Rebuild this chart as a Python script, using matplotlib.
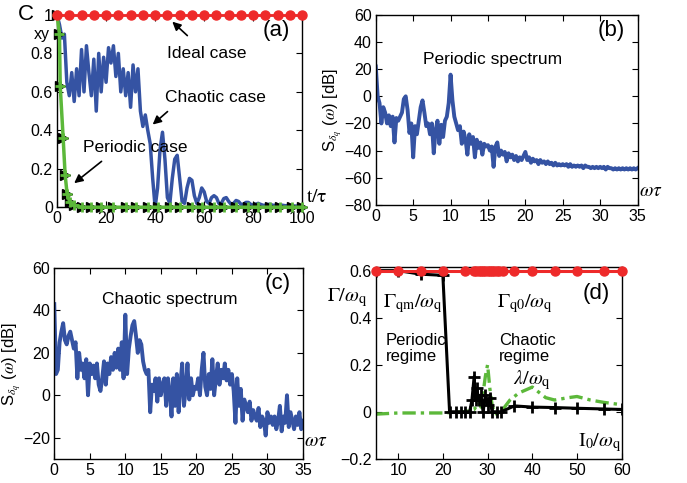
import numpy as np
import matplotlib
matplotlib.use("Agg")
import matplotlib.pyplot as plt

plt.rcParams['font.family'] = ['Liberation Sans', 'DejaVu Sans']
plt.rcParams['mathtext.fontset'] = 'stix'
plt.rcParams['font.size'] = 11.5

BLUE = '#3553a3'
RED = '#ee2a2a'
GREEN = '#5cb83a'

# ---------------- (a) correlation C_xy vs t/tau ----------------
t_ideal = np.arange(0, 101, 5)
c_ideal = [1.0] * len(t_ideal)

t_periodic = [0, 1, 1.3, 2.5, 3.3, 4.1, 5.3, 7, 10, 14, 18, 23, 28, 32, 37, 41, 46, 50,
              55, 59, 64, 68, 73, 78, 82, 87, 91, 96, 100]
c_periodic = [1.0, 0.9, 0.63, 0.36, 0.17, 0.07, 0.025, 0.01, 0.0, 0.0, 0.0, 0.0, 0.0, 0.0,
              0.0, 0.0, 0.0, 0.0, 0.0, 0.0, 0.0, 0.0, 0.0, 0.0, 0.0, 0.0, 0.0, 0.0, 0.0]

t_chaotic = np.arange(0, 101, 1)
c_chaotic = [1.0, 0.95, 0.88, 0.90, 0.65, 0.58, 0.70, 0.55, 0.72, 0.58,
             0.82, 0.60, 0.84, 0.70, 0.58, 0.77, 0.50, 0.80, 0.60, 0.78,
             0.65, 0.83, 0.75, 0.84, 0.68, 0.80, 0.60, 0.72, 0.58, 0.70,
             0.52, 0.74, 0.60, 0.72, 0.50, 0.42, 0.48, 0.40, 0.33, 0.15,
             0.0, 0.10, 0.30, 0.39, 0.25, 0.05, 0.02, 0.15, 0.25, 0.27,
             0.15, 0.03, 0.02, 0.10, 0.15, 0.14, 0.06, 0.02, 0.05, 0.10,
             0.08, 0.03, 0.02, 0.05, 0.06, 0.05, 0.02, 0.02, 0.045, 0.05,
             0.03, 0.015, 0.02, 0.035, 0.03, 0.015, 0.015, 0.025, 0.025, 0.015,
             0.01, 0.015, 0.02, 0.015, 0.01, 0.01, 0.015, 0.015, 0.01, 0.01,
             0.01, 0.012, 0.01, 0.008, 0.008, 0.01, 0.008, 0.006, 0.006, 0.005,
             0.005]

# ---------------- (b) periodic spectrum [dB] ----------------
w_spec = np.arange(0, 35.001, 0.25)
s_periodic = [22,
              0, -5, -20, -8,      -12, -20, -14, -22,   -15, -34, -16, -18,
              -15, -12, -2, 0,     -10, -27, -20, -45,   -22, -28, -18, -8,
              -3, -12, -22, -20,   -28, -20, -42, -25,   -18, -35, -21, -30,
              -18, -15, -5, 16,    -3, -15, -20, -25,    -22, -35, -26, -32,
              -43, -28, -35, -30,  -45, -32, -38, -34,   -43, -35, -37, -36,
              -40, -37, -52, -37,  -34, -44, -40, -43,   -41, -48, -42, -45,
              -43, -47, -44, -48,  -45, -47, -44, -41,   -47, -45, -49, -46,
              -48, -47, -50, -47,  -49, -48, -50, -48,   -50, -49, -51, -49,
              -51, -50, -51, -50,  -51, -50, -52, -50,   -52, -51, -52, -51,
              -52, -51, -53, -51,  -52, -52, -53, -52,   -53, -52, -53, -52,
              -53, -52, -54, -52,  -53, -53, -54, -53,   -54, -53, -54, -53,
              -54, -53, -54, -53,  -54, -53, -54, -53]

# ---------------- (c) chaotic spectrum [dB] ----------------
s_chaotic = [43,
             10, 12, 25, 30,    34, 26, 24, 28,    30, 26, 22, 25,
             8, 20, 12, 15,     8, 17, 0, 15,      10, 14, 8, 15,
             5, 2, 8, 16,       5, 15, 10, 18,     12, 20, 13, 22,
             12, 25, 8, 38,     10, 22, 28, 33,    35, 28, 20, 26,
             24, 16, 12, 10,    12, -8, 5, 2,      8, -3, 8, 0,
             5, 8, -5, 8,       2, -10, 8, -5,     10, -8, 5, 15,
             -5, 3, 15, -2,     8, 0, 4, 3,        8, 0, 12, 20,
             4, 0, 10, 3,       17, 0, 8, 15,      5, 12, 8, 15,
             7, 12, 5, 10,      2, -13, 8, -5,     3, -12, -2, -5,
             -8, -3, -12, -7,   -10, -12, -6, -15, -10, -12, -19, -8,
             -13, -10, -14, -10, -16, -12, -5, -17, -10, -13, 0, -15,
             -8, -12, -16, -10, -14, -8, -16, -12]

# ---------------- (d) rates vs I0/omega_q ----------------
i_q0 = [5, 10, 15, 20, 25, 27, 27.5, 28, 28.5, 29, 29.5, 30, 30.5, 31, 31.5, 32, 32.5,
        33.5, 36, 40, 45, 50, 56, 60]
g_q0 = [0.6] * len(i_q0)

i_qm = [5, 10, 15, 20, 21.5, 23, 24, 25, 26, 26.5, 27, 27.3, 27.6, 28, 28.5, 29,
        29.5, 30, 30.5, 31, 32, 33, 36, 40, 45, 50, 56, 60]
g_qm = [0.6, 0.6, 0.585, 0.58, 0.0, 0.0, 0.0, 0.0, 0.0, 0.05, 0.15, 0.05, 0.1, 0.05,
        0.07, 0.0, 0.07, 0.03, 0.06, 0.0, 0.0, 0.0, 0.025, 0.02, 0.018, 0.015, 0.012, 0.01]

i_lam = [5, 10, 15, 20, 25, 27, 28, 28.5, 29, 29.5, 30, 30.5, 31, 31.5, 32, 33, 35, 37,
         40, 43, 45, 48, 50, 53, 56, 60]
g_lam = [-0.01, -0.005, -0.005, -0.005, 0.0, 0.01, 0.04, 0.02, 0.08, 0.15, 0.2, 0.1,
         0.03, 0.0, -0.01, 0.0, 0.05, 0.08, 0.105, 0.06, 0.05, 0.06, 0.065, 0.05, 0.04, 0.03]


def style(ax):
    ax.tick_params(direction='in', top=True, right=True, length=4, width=0.8,
                   labelsize=11.5, pad=3)
    for s in ax.spines.values():
        s.set_linewidth(1.0)


fig = plt.figure(figsize=(6.87, 4.83), dpi=100)

# (a)
ax = fig.add_axes([0.083, 0.571, 0.357, 0.398])
ax.plot(t_chaotic, c_chaotic, color=BLUE, lw=2.5, zorder=2)
ax.plot(t_periodic, c_periodic, ls='none', marker='>', color='k', ms=7.5, zorder=3, clip_on=False)
ax.plot(t_periodic, c_periodic, color=GREEN, lw=2.5, marker='+', ms=7, mew=2, zorder=4, clip_on=False)
ax.plot(t_ideal, c_ideal, color=RED, lw=2, marker='o', ms=6.5, zorder=5, clip_on=False)
ax.set_xlim(0, 100)
ax.set_ylim(0, 1)
ax.set_xticks([0, 20, 40, 60, 80, 100])
ax.set_yticks([0, 0.2, 0.4, 0.6, 0.8, 1])
ax.set_yticklabels(['0', '0.2', '0.4', '0.6', '0.8', '1'])
style(ax)
ax.text(-0.158, 1.0, 'C', fontsize=16, transform=ax.transAxes, va='center', ha='left')
ax.text(-0.095, 0.9, 'xy', fontsize=11.5, transform=ax.transAxes, va='center', ha='left')
ax.text(0.95, 0.92, '(a)', fontsize=16, transform=ax.transAxes, ha='right', va='center')
ax.annotate('Ideal case', xy=(47, 0.965), xytext=(61, 0.8), ha='center', va='center',
            fontsize=12.5,
            arrowprops=dict(arrowstyle='-|>', color='k', lw=1.2, shrinkA=8, shrinkB=0))
ax.annotate('Chaotic case', xy=(39, 0.43), xytext=(64.5, 0.57), ha='center', va='center',
            fontsize=12.5,
            arrowprops=dict(arrowstyle='-|>', color='k', lw=1.2, shrinkA=4, shrinkB=0,
                            relpos=(0.1, 0.0)))
ax.annotate('Periodic case', xy=(7, 0.125), xytext=(32, 0.31), ha='center', va='center',
            fontsize=12.5,
            arrowprops=dict(arrowstyle='-|>', color='k', lw=1.2, shrinkA=4, shrinkB=0,
                            relpos=(0.25, 0.0)))
ax.text(1.015, 0.05, r'$\mathrm{t/\tau}$', fontsize=14, transform=ax.transAxes, ha='left',
        va='center')

# (b)
ax = fig.add_axes([0.547, 0.576, 0.381, 0.393])
ax.plot(w_spec, s_periodic, color=BLUE, lw=2.8)
ax.set_xlim(0, 35)
ax.set_ylim(-80, 60)
ax.set_xticks(np.arange(0, 36, 5))
ax.set_yticks(np.arange(-80, 61, 20))
ax.set_yticklabels(['\u221280', '\u221260', '\u221240', '\u221220', '0', '20', '40', '60'])
style(ax)
ax.set_ylabel(r'S$_{\delta_q}$ ($\omega$) [dB]', fontsize=12, labelpad=0)
ax.text(15.6, 27, 'Periodic spectrum', ha='center', va='center', fontsize=12.5)
ax.text(0.95, 0.92, '(b)', fontsize=16, transform=ax.transAxes, ha='right', va='center')
ax.text(1.005, 0.07, r'$\omega\tau$', fontsize=14, transform=ax.transAxes, ha='left',
        va='center')

# (c)
ax = fig.add_axes([0.079, 0.050, 0.362, 0.395])
ax.plot(w_spec, s_chaotic, color=BLUE, lw=2.8)
ax.set_xlim(0, 35)
ax.set_ylim(-30, 60)
ax.set_xticks(np.arange(0, 36, 5))
ax.set_yticks([-20, 0, 20, 40, 60])
ax.set_yticklabels(['\u221220', '0', '20', '40', '60'])
style(ax)
ax.set_ylabel(r'S$_{\delta_q}$ ($\omega$) [dB]', fontsize=12, labelpad=0)
ax.text(16.3, 45, 'Chaotic spectrum', ha='center', va='center', fontsize=12.5)
ax.text(0.95, 0.92, '(c)', fontsize=16, transform=ax.transAxes, ha='right', va='center')
ax.text(1.005, 0.09, r'$\omega\tau$', fontsize=14, transform=ax.transAxes, ha='left',
        va='center')

# (d)
ax = fig.add_axes([0.547, 0.050, 0.358, 0.397])
ax.plot(i_lam, g_lam, color=GREEN, lw=2.4, ls=(0, (4, 1.5, 1, 1.5)), zorder=2)
ax.plot(i_qm, g_qm, color='k', lw=2.2, marker='+', ms=8, mew=2, zorder=3)
ax.plot(i_q0, g_q0, color=RED, lw=2.2, marker='o', ms=6.5, zorder=4, clip_on=False)
ax.set_xlim(5, 60)
ax.set_ylim(-0.2, 0.615)
ax.set_xticks([10, 20, 30, 40, 50, 60])
ax.set_yticks([-0.2, 0, 0.2, 0.4, 0.6])
ax.set_yticklabels(['\u22120.2', '0', '0.2', '0.4', '0.6'])
style(ax)
ax.text(-0.2, 0.84, r'$\Gamma/\omega_\mathrm{q}$', fontsize=14.5, transform=ax.transAxes,
        ha='left', va='center')
ax.text(13.3, 0.46, r'$\Gamma_{\mathrm{qm}}/\omega_{\mathrm{q}}$', fontsize=14.5, ha='center',
        va='center')
ax.text(38.3, 0.46, r'$\Gamma_{\mathrm{q0}}/\omega_{\mathrm{q}}$', fontsize=14.5, ha='center',
        va='center')
ax.text(7.2, 0.27, 'Periodic\nregime', fontsize=12, ha='left', va='center', linespacing=1.1)
ax.text(32.5, 0.27, 'Chaotic\nregime', fontsize=12, ha='left', va='center', linespacing=1.1)
ax.text(40, 0.135, r'$\lambda/\omega_{\mathrm{q}}$', fontsize=14.5, ha='center', va='center')
ax.text(55, -0.13, r'$\mathrm{I}_0/\omega_{\mathrm{q}}$', fontsize=14.5, ha='center', va='center')
ax.text(0.95, 0.86, '(d)', fontsize=16, transform=ax.transAxes, ha='right', va='center')

fig.savefig('out.png', dpi=100)
